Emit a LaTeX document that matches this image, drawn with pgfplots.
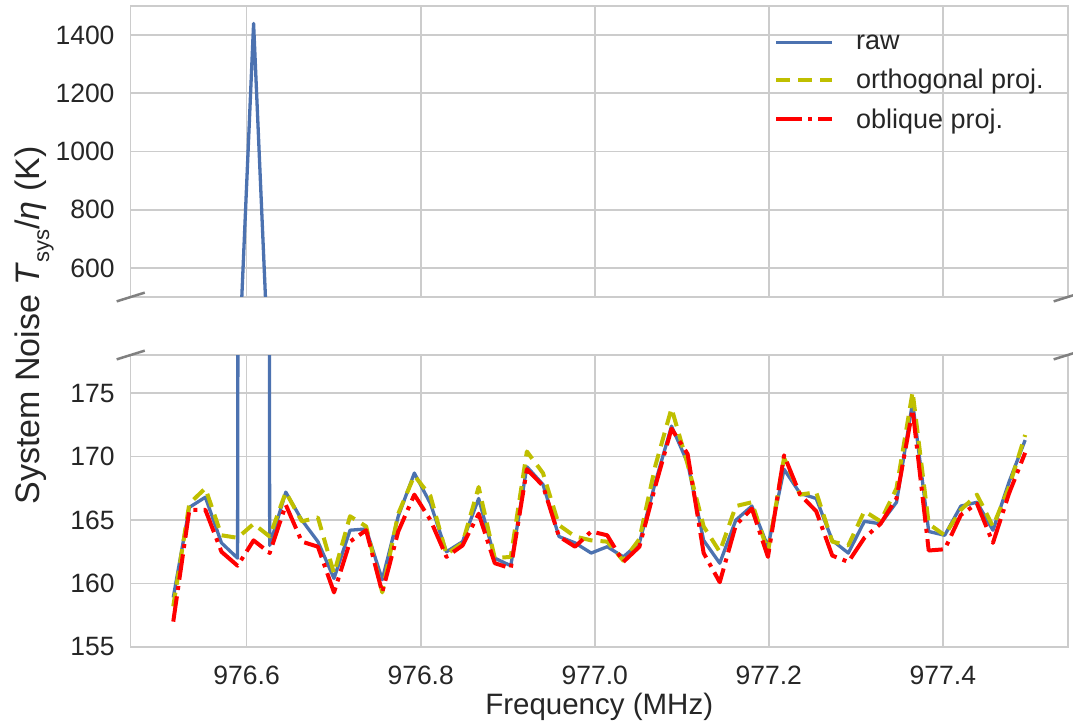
\documentclass[border=0pt]{standalone}
\usepackage{fontspec}
\setmainfont{Liberation Sans}
\usepackage{pgfplots}
\pgfplotsset{compat=1.18}
\usepackage{pgfplotstable}

\definecolor{rawc}{HTML}{4C72B0}
\definecolor{orthc}{rgb}{0.75,0.75,0}
\definecolor{oblc}{rgb}{1,0,0}
\definecolor{gridc}{HTML}{CCCCCC}
\definecolor{txtc}{HTML}{262626}
\definecolor{brkc}{HTML}{808080}

\pgfplotstableread{
x raw orth obl
976.5157 158.9 158.2 157.0
976.5342 166.0 166.3 165.8
976.5526 166.8 167.5 165.8
976.5711 163.2 163.8 162.5
976.5896 162.0 163.6 161.4
976.6080 1440 164.7 163.4
976.6265 163.0 163.7 162.4
976.6450 167.2 167.2 166.2
976.6634 165.0 164.9 163.3
976.6819 163.3 165.2 162.9
976.7004 160.4 160.8 159.3
976.7188 164.2 165.3 163.3
976.7373 164.3 164.5 164.2
976.7558 160.3 159.3 159.3
976.7742 165.3 165.5 164.1
976.7927 168.7 168.5 167.0
976.8112 166.3 166.9 165.0
976.8296 162.5 162.3 162.1
976.8481 163.3 163.2 163.0
976.8666 166.7 167.6 165.5
976.8851 162.0 162.0 161.6
976.9035 161.4 162.1 161.2
976.9220 169.2 170.4 169.0
976.9405 167.8 168.7 167.7
976.9589 163.7 164.6 163.7
976.9774 163.2 163.7 162.9
976.9959 162.4 163.4 164.1
977.0143 162.9 163.3 163.8
977.0328 162.1 161.8 161.7
977.0513 163.2 163.5 162.9
977.0697 168.0 169.3 167.7
977.0882 172.4 173.8 172.2
977.1067 169.5 169.4 170.2
977.1251 163.4 164.5 162.4
977.1436 161.6 162.5 160.1
977.1621 165.0 166.1 164.6
977.1805 166.1 166.4 165.9
977.1990 162.9 162.5 162.1
977.2175 169.0 169.9 170.1
977.2359 167.1 167.0 167.0
977.2544 166.7 167.2 165.7
977.2729 163.4 163.3 162.2
977.2913 162.4 163.0 161.7
977.3098 164.9 165.7 163.6
977.3283 164.7 164.9 164.7
977.3467 166.4 167.5 166.7
977.3652 174.3 175.1 173.7
977.3837 164.1 164.7 162.6
977.4021 163.8 163.8 162.7
977.4206 166.1 165.8 165.4
977.4391 166.4 167.0 166.3
977.4575 164.2 164.5 163.2
977.4760 168.0 167.6 167.1
977.4945 171.3 171.7 170.3
}\datatab

\pgfplotsset{
  brk/.style={
    scale only axis, width=937pt,
    xmin=976.4668, xmax=977.5434,
    axis line style={draw=gridc, line width=1.6pt},
    grid=major,
    major grid style={draw=gridc, line width=1.7pt},
    major tick length=0pt,
    xtick={976.6,976.8,977.0,977.2,977.4},
    ticklabel style={font=\fontsize{26.5}{30}\selectfont, text=txtc},
    /pgf/number format/assume math mode=true,
    /pgf/number format/1000 sep={},
    scaled ticks=false,
    yticklabel style={anchor=east, inner sep=0pt, xshift=-16pt},
    xticklabel style={anchor=north, inner sep=0pt, yshift=-19pt},
    every axis plot/.append style={line join=round},
  },
  rawstyle/.style={color=rawc, line width=3.3pt, solid},
  orthstyle/.style={color=orthc, line width=4pt, dash pattern=on 14pt off 8pt},
  oblstyle/.style={color=oblc, line width=4pt, dash pattern=on 25.6pt off 6.4pt on 4pt off 6.4pt},
}

\begin{document}
\begin{tikzpicture}
\begin{axis}[brk, name=lower, at={(0pt,0pt)}, anchor=south west,
  height=292pt, ymin=155, ymax=178, ytick={155,160,165,170,175},
  xticklabels={976.6,976.8,977.0,977.2,977.4},
  xlabel={Frequency (MHz)},
  xlabel style={at={(axis description cs:0.5,0)}, anchor=base, yshift=-67pt,
    font=\fontsize{29.5}{34}\selectfont, text=txtc},
  restrict y to domain*=150:1000]
\addplot[rawstyle] table[x=x, y=raw] {\datatab};
\addplot[orthstyle] table[x=x, y=orth] {\datatab};
\addplot[oblstyle] table[x=x, y=obl] {\datatab};
\end{axis}

\begin{axis}[brk, name=upper, at={(0pt,350pt)}, anchor=south west,
  height=291pt, ymin=500, ymax=1500, ytick={600,800,1000,1200,1400},
  xticklabels={},
  legend cell align=left,
  legend image code/.code={\draw[#1] (0pt,0pt) -- (56pt,0pt);},
  legend style={draw=none, fill=none, at={(0.6866,0.9021)}, anchor=north west,
    inner sep=0pt, outer sep=0pt, row sep=18.5pt, column sep=22pt,
    font=\fontsize{27}{30}\selectfont, text=txtc,
    nodes={inner sep=0pt},
    column 2/.style={nodes={text height=19pt, text depth=0pt}}}]
\addplot[rawstyle] table[x=x, y=raw] {\datatab};
\addlegendentry{raw}
\addplot[orthstyle] table[x=x, y=orth] {\datatab};
\addlegendentry{orthogonal proj.}
\addplot[oblstyle] table[x=x, y=obl] {\datatab};
\addlegendentry{oblique proj.}
\end{axis}

\node[rotate=90, anchor=base, text=txtc, font=\fontsize{34}{40}\selectfont]
  at (-91pt,321.5pt) {System Noise \textit{T}\raisebox{-0.28em}{\fontsize{22}{22}\selectfont sys}/\textit{η} (K)};

\draw[line width=2.5pt, color=brkc] ([shift={(-14.05pt,-4.37pt)}]upper.south west) -- ([shift={(14.05pt,4.37pt)}]upper.south west);
\draw[line width=2.5pt, color=brkc] ([shift={(-14.05pt,-4.37pt)}]upper.south east) -- ([shift={(14.05pt,4.37pt)}]upper.south east);
\draw[line width=2.5pt, color=brkc] ([shift={(-14.05pt,-4.37pt)}]lower.north west) -- ([shift={(14.05pt,4.37pt)}]lower.north west);
\draw[line width=2.5pt, color=brkc] ([shift={(-14.05pt,-4.37pt)}]lower.north east) -- ([shift={(14.05pt,4.37pt)}]lower.north east);

\pgfresetboundingbox
\path[use as bounding box] (-130.7pt,-74pt) rectangle (942.3pt,647pt);
\end{tikzpicture}
\end{document}
